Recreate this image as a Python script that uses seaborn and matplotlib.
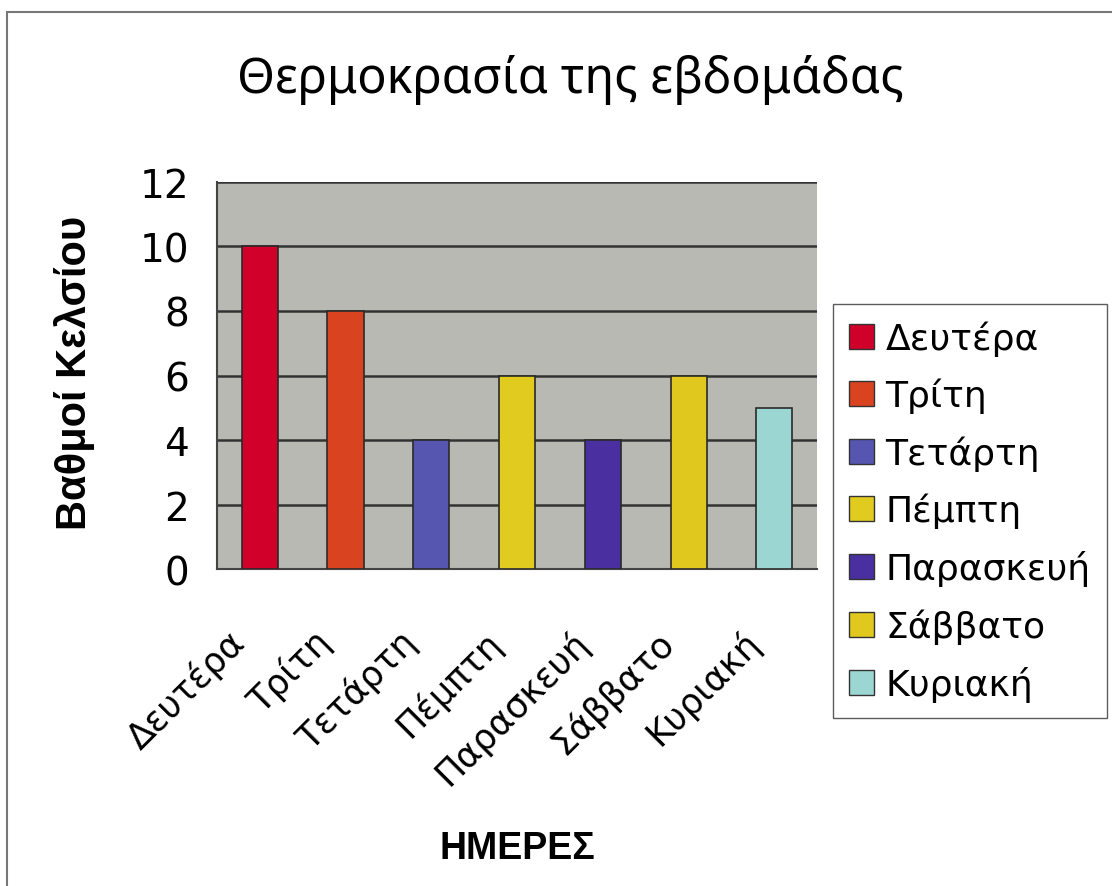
import matplotlib
matplotlib.use('Agg')
import matplotlib.pyplot as plt
import matplotlib.transforms as mtrans
import seaborn as sns
import pandas as pd
from matplotlib.patches import Patch, Rectangle

days = ['Δευτέρα', 'Τρίτη', 'Τετάρτη', 'Πέμπτη', 'Παρασκευή', 'Σάββατο', 'Κυριακή']
temps = [10, 8, 4, 6, 4, 6, 5]
colors = ['#D0002A', '#D9431F', '#5656B0', '#E0CB1E', '#4A2FA0', '#E0C81E', '#9CD6D2']

sns.set_style('white')
plt.rcParams['font.family'] = ['Liberation Sans', 'DejaVu Sans']
plt.rcParams['text.color'] = 'black'
plt.rcParams['axes.labelcolor'] = 'black'
plt.rcParams['xtick.color'] = 'black'
plt.rcParams['ytick.color'] = 'black'
wide = ['DejaVu Sans']

df = pd.DataFrame({'day': days, 'temp': temps})

fig = plt.figure(figsize=(11.12, 8.87), dpi=100)
ax = fig.add_axes([0.195, 0.357, 0.54, 0.437])
ax.set_facecolor('#B9B9B3')

sns.barplot(data=df, x='day', y='temp', hue='day', palette=colors, order=days,
            hue_order=days, width=0.42, dodge=False, legend=False, saturation=1,
            edgecolor='#2a2a2a', linewidth=1.2, ax=ax, zorder=3)

ax.set_ylim(0, 12)
ax.set_xlim(-0.5, len(days) - 0.5)
ax.yaxis.grid(True, color='#333333', linewidth=1.8, zorder=1)
ax.set_axisbelow(True)

# ticks between categories, like the original
ax.set_xticks([i - 0.5 for i in range(len(days) + 1)], minor=True)
ax.tick_params(axis='x', which='minor', length=10, width=1.5, color='#444444', direction='out')
ax.tick_params(axis='x', which='major', length=0, pad=10)
ax.tick_params(axis='y', length=10, width=1.5, color='#444444', direction='out', pad=10)
ax.set_xticks(range(len(days)))
ax.set_xticklabels(days, rotation=45, ha='right', rotation_mode='anchor', fontsize=25.5,
                   family=wide)
shift = mtrans.ScaledTranslation(-0.33, -0.40, fig.dpi_scale_trans)
for lab in ax.get_xticklabels():
    lab.set_transform(lab.get_transform() + shift)
ax.set_yticks(range(0, 13, 2))
ax.set_yticklabels([str(v) for v in range(0, 13, 2)], fontsize=28, family=wide)

for s in ['top', 'right']:
    ax.spines[s].set_visible(False)
for s in ['left', 'bottom']:
    ax.spines[s].set_color('#444444')
    ax.spines[s].set_linewidth(1.5)

ax.set_xlabel('ΗΜΕΡΕΣ', fontsize=27, fontweight='bold', va='center')
ax.xaxis.set_label_coords(0.5, -0.718)
ax.set_ylabel('Βαθμοί Κελσίου', fontsize=30, fontweight='bold', va='center')
ax.yaxis.set_label_coords(-0.237, 0.51)

fig.text(0.513, 0.91, 'Θερμοκρασία της εβδομάδας', fontsize=35, ha='center', va='center',
         family=['Noto Sans', 'DejaVu Sans'])

handles = [Patch(facecolor=c, edgecolor='#333333', linewidth=1) for c in colors]
fig.legend(handles, days, loc='upper left', bbox_to_anchor=(0.749, 0.656),
           prop={'family': wide, 'size': 26}, frameon=True, fancybox=False,
           edgecolor='#333333', handlelength=0.7, handleheight=0.7, handletextpad=0.3,
           labelspacing=0.61, borderpad=0.45, borderaxespad=0)

fig.patches.append(Rectangle((0.0063, -0.05), 1.2, 0.035 + 1.0, transform=fig.transFigure,
                             fill=False, edgecolor='#777777', linewidth=1.5))

fig.savefig('out.png', dpi=100)
